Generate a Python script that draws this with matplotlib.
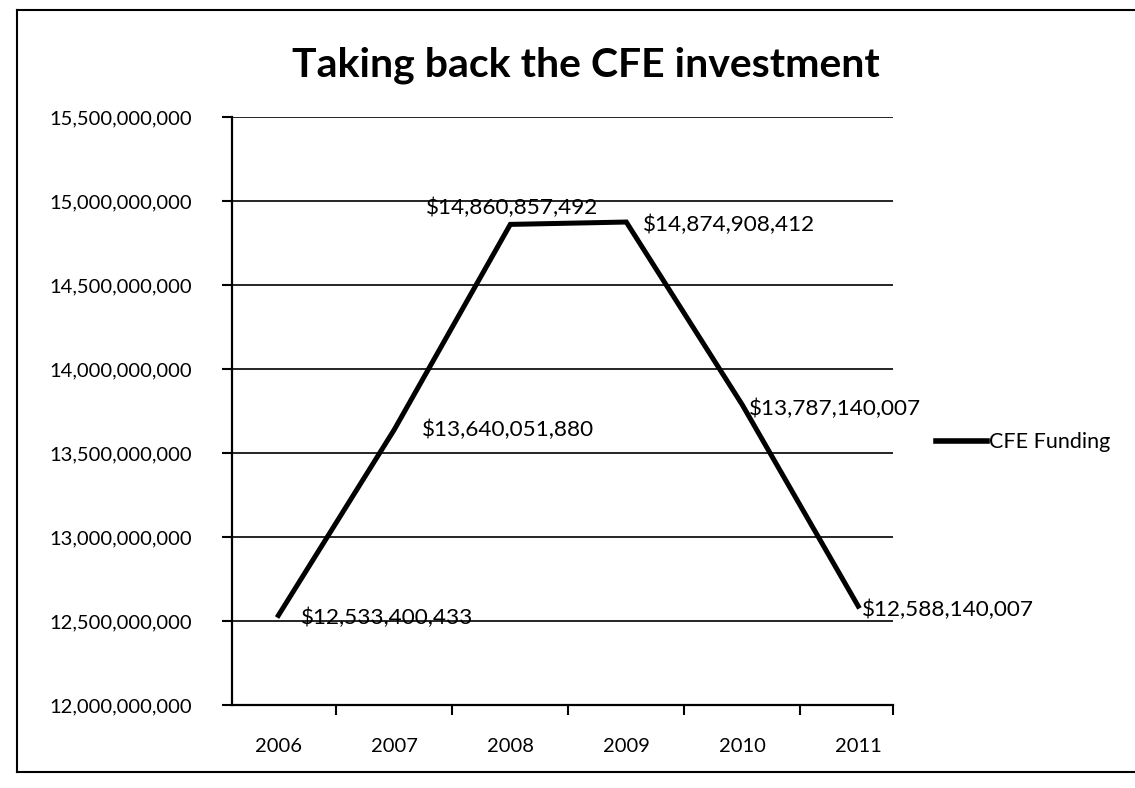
import numpy as np
import matplotlib.pyplot as plt
from matplotlib.lines import Line2D
from matplotlib.ticker import FuncFormatter

years = ['2006', '2007', '2008', '2009', '2010', '2011']
funding = [12533400433, 13640051880, 14860857492, 14874908412, 13787140007, 12588140007]

# where each value label sits relative to its point (points)
label_offsets = [(16, -2), (20, 0), (1, 12), (12, -2), (5, -3), (3, -3)]
label_align = ['left', 'left', 'center', 'left', 'left', 'left']

plt.rcParams['font.family'] = ['Lato', 'DejaVu Sans']

fig = plt.figure(figsize=(11.35, 7.88), dpi=100)
ax = fig.add_axes([0.2044, 0.1053, 0.5824, 0.7462])

x = np.arange(len(years))
ax.plot(x, funding, color='black', lw=3.6, solid_joinstyle='miter', label='CFE Funding')

for i in range(len(years)):
    ax.annotate('${:,}'.format(funding[i]), (x[i], funding[i]),
                xytext=label_offsets[i], textcoords='offset points',
                ha=label_align[i], va='center', fontsize=16.2)

ax.set_ylim(12e9, 15.5e9)
ax.set_yticks(np.arange(12e9, 15.6e9, 5e8))
ax.yaxis.set_major_formatter(FuncFormatter(lambda v, p: '{:,}'.format(int(v))))
ax.yaxis.grid(True, color='black', lw=1.2)
ax.set_axisbelow(True)

ax.set_xticks(x)
ax.set_xticklabels(years)
xmin, xmax = -0.40, 5.30
ax.set_xticks(list(np.arange(0.5, 5, 1)) + [xmax], minor=True)
ax.set_xlim(xmin, xmax)
ax.tick_params(axis='x', which='major', length=0, pad=24, labelsize=14.5)
ax.tick_params(axis='x', which='minor', length=7, width=1.5, direction='out')
ax.tick_params(axis='y', length=7, width=1.5, direction='out', labelsize=14.5, pad=22)

for s in ['top', 'right']:
    ax.spines[s].set_visible(False)
for s in ['left', 'bottom']:
    ax.spines[s].set_linewidth(1.6)

fig.text(0.516, 0.9175, 'Taking back the CFE investment', fontsize=29.5,
         fontweight='bold', ha='center', va='center')

ax.legend(handles=[Line2D([], [], color='black', lw=4)], labels=['CFE Funding'],
          loc='center left', bbox_to_anchor=(1.035, 0.447), frameon=False,
          fontsize=15.5, handlelength=2.4, handletextpad=0.1)

# chart frame
fig.add_artist(Line2D([0.015, 1.0], [0.987, 0.987], color='black', lw=1.5))
fig.add_artist(Line2D([0.015, 0.015], [0.987, 0.02], color='black', lw=1.5))
fig.add_artist(Line2D([0.015, 1.0], [0.02, 0.02], color='black', lw=1.5))

fig.savefig('out.png', dpi=100)
